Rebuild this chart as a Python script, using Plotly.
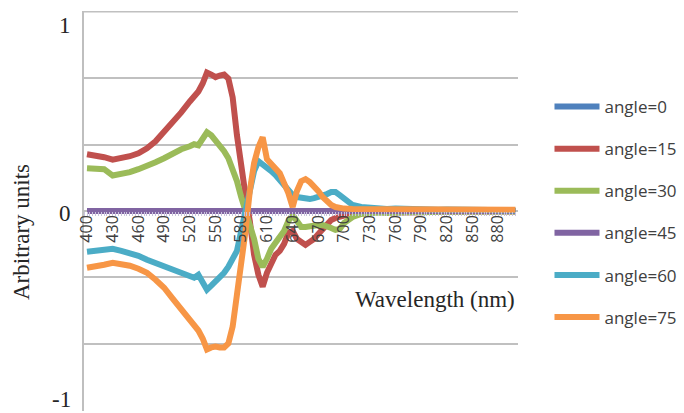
import plotly.graph_objects as go

wavelength = (list(range(400, 520, 10)) + list(range(520, 705, 5)) + list(range(710, 910, 10)))

angle_0 = [0.0] * len(wavelength)
angle_45 = [0.0] * len(wavelength)

angle_15 = [0.285, 0.28, 0.27, 0.258, 0.265, 0.275, 0.29, 0.315, 0.35, 0.395, 0.445, 0.495,
            0.55, 0.575, 0.60, 0.64, 0.695, 0.685, 0.672, 0.68, 0.685, 0.665, 0.57, 0.38, 0.21,
            0.08, -0.05, -0.22, -0.32, -0.38, -0.31, -0.255, -0.22, -0.20, -0.165, -0.11, -0.10,
            -0.14, -0.16, -0.17, -0.155, -0.14, -0.115, -0.09, -0.06, -0.045, -0.035, -0.03, -0.02,
            -0.012, -0.008, -0.005, -0.006, -0.004, -0.008, -0.005, -0.003, -0.006, -0.004,
            -0.003, -0.005, -0.004, -0.003, -0.002, -0.004, -0.003, -0.002, -0.003, -0.002]

angle_30 = [0.215, 0.215, 0.21, 0.178, 0.185, 0.195, 0.21, 0.225, 0.245, 0.265, 0.29, 0.31,
            0.325, 0.335, 0.33, 0.36, 0.395, 0.38, 0.355, 0.33, 0.30, 0.265, 0.21, 0.15, 0.07,
            0.0, -0.07, -0.14, -0.24, -0.28, -0.24, -0.19, -0.16, -0.13, -0.10, -0.05, -0.02,
            -0.05, -0.08, -0.08, -0.075, -0.07, -0.07, -0.07, -0.075, -0.085, -0.095, -0.09, -0.06,
            -0.03, -0.015, -0.01, -0.008, -0.01, -0.006, -0.008, -0.005, -0.006, -0.004,
            -0.005, -0.004, -0.003, -0.004, -0.003, -0.002, -0.003, -0.002, -0.002, -0.002]

angle_60 = [-0.205, -0.20, -0.195, -0.19, -0.20, -0.21, -0.225, -0.245, -0.26, -0.275, -0.29, -0.305,
            -0.32, -0.335, -0.32, -0.36, -0.395, -0.375, -0.355, -0.33, -0.31, -0.28, -0.245, -0.20, -0.10,
            0.0, 0.11, 0.20, 0.25, 0.235, 0.215, 0.20, 0.18, 0.155, 0.12, 0.095, 0.08,
            0.07, 0.065, 0.06, 0.06, 0.065, 0.07, 0.08, 0.085, 0.095, 0.095, 0.08, 0.06,
            0.03, 0.02, 0.015, 0.015, 0.01, 0.012, 0.01, 0.008, 0.01, 0.008,
            0.006, 0.008, 0.006, 0.005, 0.006, 0.004, 0.005, 0.004, 0.004, 0.003]

angle_75 = [-0.285, -0.28, -0.27, -0.26, -0.265, -0.275, -0.29, -0.31, -0.345, -0.385, -0.44, -0.49,
            -0.545, -0.575, -0.60, -0.64, -0.695, -0.685, -0.68, -0.685, -0.685, -0.665, -0.58, -0.42, -0.27,
            -0.10, 0.10, 0.24, 0.32, 0.37, 0.26, 0.24, 0.22, 0.19, 0.14, 0.09, 0.02,
            0.10, 0.15, 0.16, 0.145, 0.125, 0.10, 0.07, 0.045, 0.03, 0.02, 0.015, 0.012,
            0.01, 0.01, 0.008, 0.009, 0.008, 0.01, 0.008, 0.009, 0.008, 0.008,
            0.007, 0.008, 0.007, 0.007, 0.006, 0.007, 0.006, 0.006, 0.006, 0.006]

series_names = ["angle=0", "angle=15", "angle=30", "angle=45", "angle=60", "angle=75"]
series_values = [angle_0, angle_15, angle_30, angle_45, angle_60, angle_75]
series_colors = ["#4F81BD", "#C0504D", "#9BBB59", "#8064A2", "#4BACC6", "#F79646"]

x_tick_values = list(range(400, 910, 30))
y_grid_values = [-1, -2/3, -1/3, 0, 1/3, 2/3, 1]
y_label_values = [1, 0, -1]
y_label_texts = ["1", "0", "-1"]

W, H = 684, 413
L, R, T, B = 84, 159, 11, 2
PW, PH = W - L - R, H - T - B


def px_x(p):
    return (p - L) / PW


def px_y(p):
    return (H - B - p) / PH


fig = go.Figure()
for name, vals, col in zip(series_names, series_values, series_colors):
    fig.add_trace(go.Scatter(x=wavelength, y=vals, mode="lines", name=name,
                             legendgroup=name,
                             line=dict(color=col, width=6)))

fig.update_layout(
    width=W, height=H,
    margin=dict(l=L, r=R, t=T, b=B),
    paper_bgcolor="white", plot_bgcolor="white",
    showlegend=True,
    legend=dict(x=px_x(557), y=px_y(89), xanchor="left", yanchor="top",
                font=dict(family="Open Sans", size=17, color="#404040"),
                tracegroupgap=17, itemwidth=45, bgcolor="rgba(0,0,0,0)"),
    xaxis=dict(range=[396.5, 903], tickvals=x_tick_values,
               ticktext=[str(v) for v in x_tick_values],
               tickangle=-90, anchor="free", position=0.5,
               showgrid=False, zeroline=False, showline=False,
               ticks="", tickfont=dict(family="Open Sans", size=16, color="#404040"),
               minor=dict(ticks="outside", dtick=10/3, tick0=400, ticklen=4,
                          tickcolor="#c9c3dc", tickwidth=1)),
    yaxis=dict(range=[-1.004, 1.004], tickvals=y_grid_values, showticklabels=False,
               showgrid=True, gridcolor="#c0c0c0", gridwidth=1.5,
               zeroline=False, showline=True, linecolor="#bfbfbf", linewidth=1.5,
               ticks=""),
)

# top gridline at y = 1 (drawn explicitly, plotly skips gridlines at the edge)
fig.add_shape(type="line", xref="paper", x0=0, x1=1, yref="y", y0=1, y1=1,
              line=dict(color="#c0c0c0", width=1.5), layer="below")

label_shift = {1: -14, 0: -2, -1: 11}
for v, t in zip(y_label_values, y_label_texts):
    fig.add_annotation(x=0, xref="paper", y=v, yref="y", text=t, showarrow=False,
                       xanchor="right", yanchor="middle", xshift=-11, yshift=label_shift[v],
                       font=dict(family="Liberation Serif", size=23, color="#262626"))

fig.add_annotation(x=px_x(20), xref="paper", y=px_y(232), yref="paper", text="Arbitrary units",
                   showarrow=False, textangle=-90, xanchor="center", yanchor="middle",
                   font=dict(family="Liberation Serif", size=23, color="#262626"))

fig.add_annotation(x=px_x(524), xref="paper", y=px_y(300), yref="paper",
                   text="Wavelength (nm)", showarrow=False, xanchor="right", yanchor="middle",
                   font=dict(family="Liberation Serif", size=23, color="#262626"))

fig.write_html("out.html", config={"displayModeBar": False},
               post_script="document.body.style.margin='0px';")
